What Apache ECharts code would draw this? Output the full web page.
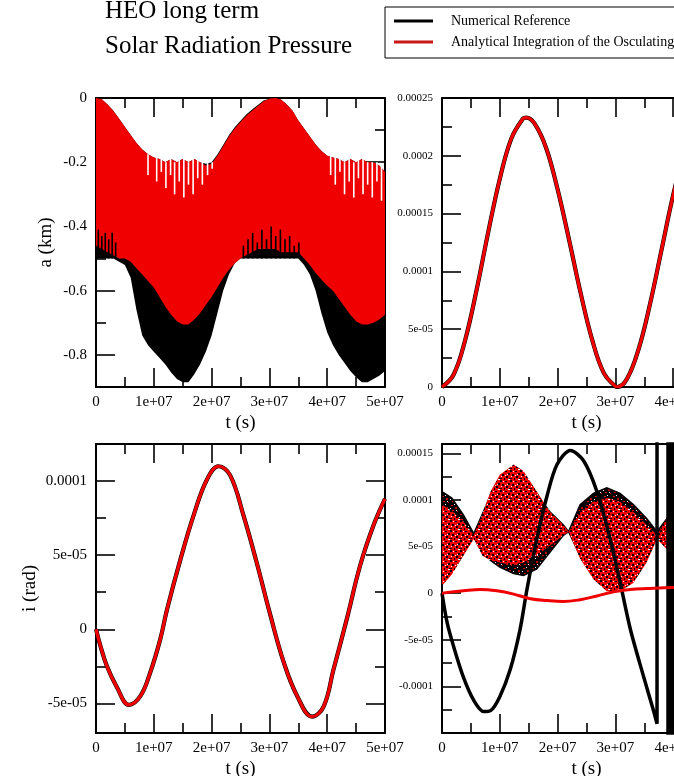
<!DOCTYPE html>
<html><head><meta charset="utf-8">
<script src="https://cdn.jsdelivr.net/npm/echarts@6/dist/echarts.min.js"></script>
<style>html,body{margin:0;padding:0;overflow:hidden;background:#fff}#c{width:900px;height:776px}</style>
</head><body><div id="c"></div>
<script>
// ---------------- text ----------------
const titleLines = ['HEO long term', 'Solar Radiation Pressure'];
const legendNames = ['Numerical Reference', 'Analytical Integration of the Osculating Elements'];
const xName = 't (s)';
const yNames = ['a (km)', '', 'i (rad)', ''];

// ---------------- ticks ----------------
const xMajor = [0, 1e7, 2e7, 3e7, 4e7, 5e7];
const xMajorLabels = ['0', '1e+07', '2e+07', '3e+07', '4e+07', '5e+07'];
const xMinor = [5e6, 1.5e7, 2.5e7, 3.5e7, 4.5e7];

const aMajor = [-0.8, -0.6, -0.4, -0.2, 0];
const aMajorLabels = ['-0.8', '-0.6', '-0.4', '-0.2', '0'];
const aMinor = [-0.9, -0.7, -0.5, -0.3, -0.1];

const eMajor = [0, 5e-5, 1e-4, 1.5e-4, 2e-4, 2.5e-4];
const eMajorLabels = ['0', '5e-05', '0.0001', '0.00015', '0.0002', '0.00025'];
const eMinor = [2.5e-5, 7.5e-5, 1.25e-4, 1.75e-4, 2.25e-4];

const iMajor = [-5e-5, 0, 5e-5, 1e-4];
const iMajorLabels = ['-5e-05', '0', '5e-05', '0.0001'];
const iMinor = [-2.5e-5, 2.5e-5, 7.5e-5, 1.25e-4];

const wMajor = [-1e-4, -5e-5, 0, 5e-5, 1e-4, 1.5e-4];
const wMajorLabels = ['-0.0001', '-5e-05', '0', '5e-05', '0.0001', '0.00015'];
const wMinor = [-1.25e-4, -7.5e-5, -2.5e-5, 2.5e-5, 7.5e-5, 1.25e-4];

// ---------------- data ----------------
// Panel a (km): envelopes of the fast-oscillating bands; time in units of 1e6 s
const aTime = [0,1,2,3,4,5,6,7,8,9,10,11,12,13,14,15,16,17,18,19,20,21,22,23,24,25,26,27,28,29,30,31,32,33,34,35,36,37,38,39,40,41,42,43,44,45,46,47,48,49,50];
const aRedUpper = [0,-0.004,-0.02,-0.04,-0.065,-0.09,-0.115,-0.14,-0.16,-0.175,-0.185,-0.19,-0.2,-0.19,-0.2,-0.19,-0.2,-0.19,-0.2,-0.21,-0.205,-0.18,-0.15,-0.12,-0.095,-0.075,-0.055,-0.04,-0.025,-0.01,-0.002,0,-0.005,-0.02,-0.04,-0.07,-0.095,-0.12,-0.145,-0.165,-0.18,-0.185,-0.19,-0.2,-0.19,-0.2,-0.19,-0.2,-0.2,-0.21,-0.23];
const aRedLower = [-0.46,-0.47,-0.48,-0.49,-0.5,-0.5,-0.51,-0.53,-0.55,-0.57,-0.59,-0.62,-0.65,-0.675,-0.695,-0.705,-0.705,-0.69,-0.67,-0.645,-0.62,-0.59,-0.56,-0.535,-0.515,-0.5,-0.49,-0.48,-0.47,-0.47,-0.47,-0.47,-0.48,-0.48,-0.48,-0.48,-0.5,-0.52,-0.545,-0.565,-0.585,-0.6,-0.625,-0.65,-0.675,-0.695,-0.705,-0.705,-0.7,-0.69,-0.675];
const aBlackUpper = [0,-0.004,-0.02,-0.04,-0.065,-0.09,-0.115,-0.14,-0.16,-0.175,-0.185,-0.19,-0.2,-0.19,-0.2,-0.19,-0.2,-0.19,-0.2,-0.205,-0.2,-0.176,-0.146,-0.116,-0.091,-0.071,-0.051,-0.036,-0.022,-0.008,-0.002,0,-0.005,-0.02,-0.04,-0.07,-0.095,-0.12,-0.145,-0.165,-0.18,-0.185,-0.19,-0.2,-0.19,-0.2,-0.19,-0.2,-0.2,-0.21,-0.23];
const aBlackLower = [-0.5,-0.5,-0.5,-0.5,-0.51,-0.52,-0.56,-0.66,-0.74,-0.77,-0.79,-0.81,-0.83,-0.855,-0.875,-0.885,-0.885,-0.86,-0.83,-0.79,-0.74,-0.67,-0.6,-0.55,-0.515,-0.5,-0.5,-0.5,-0.5,-0.5,-0.5,-0.5,-0.5,-0.5,-0.5,-0.5,-0.52,-0.55,-0.6,-0.67,-0.73,-0.77,-0.8,-0.825,-0.85,-0.87,-0.885,-0.885,-0.875,-0.865,-0.85];
// isolated excursions of the oscillation: [time (1e6 s), from (km), to (km)]
const aRedDips = [[9.0,-0.175,-0.24],[10.5,-0.185,-0.26],[11.3,-0.19,-0.23],[12.1,-0.2,-0.28],[12.9,-0.19,-0.24],[13.6,-0.2,-0.3],[14.4,-0.19,-0.26],[15.2,-0.19,-0.31],[16.0,-0.2,-0.27],[16.8,-0.19,-0.3],[17.6,-0.19,-0.25],[18.4,-0.2,-0.27],[19.3,-0.2,-0.24],[20.1,-0.2,-0.22],[40.6,-0.18,-0.24],[41.4,-0.185,-0.27],[42.2,-0.19,-0.23],[43.0,-0.2,-0.3],[43.8,-0.19,-0.26],[44.6,-0.2,-0.31],[45.4,-0.19,-0.25],[46.2,-0.19,-0.3],[47.0,-0.2,-0.27],[47.8,-0.2,-0.31],[48.6,-0.2,-0.26],[49.4,-0.21,-0.32]];
const aBlackRises = [[0.4,-0.5,-0.41],[1.0,-0.5,-0.43],[1.6,-0.5,-0.42],[2.2,-0.5,-0.44],[2.8,-0.5,-0.42],[3.4,-0.5,-0.45],[25.5,-0.5,-0.46],[26.3,-0.5,-0.44],[27.1,-0.5,-0.42],[27.9,-0.5,-0.45],[28.7,-0.5,-0.41],[29.5,-0.5,-0.44],[30.3,-0.5,-0.4],[31.1,-0.5,-0.43],[31.9,-0.5,-0.41],[32.7,-0.5,-0.44],[33.5,-0.5,-0.43],[34.3,-0.5,-0.46],[35.1,-0.5,-0.45]];

// Panel e: time (1e6 s), value (1e-5)
const eTime = [0,2,4,6,8,10,12,14,14.6,16,18,20,22,24,26,28,30,30.3,32,34,36,38,40,42,44,45.5,48,50];
const eNumerical = [0,1.06,4.05,8.43,13.4,18.0,21.5,23.2,23.3,22.8,20.7,17.1,12.7,8.1,4.05,1.2,0.05,0,0.7,3.25,7.2,11.9,16.6,20.4,22.7,23.3,22.6,20.8];
const eAnalytical = [0,1.06,4.05,8.43,13.4,18.0,21.5,23.2,23.3,22.8,20.7,17.1,12.7,8.1,4.05,1.2,0.05,0,0.7,3.25,7.2,11.9,16.6,20.4,22.7,23.3,22.6,20.8];

// Panel i: time (1e6 s), value (1e-5 rad)
const iTime = [0,0.75,1.9,3.6,5.7,7.7,9.4,11.1,12.3,14.6,16.9,19.2,21.2,23.2,25.5,27.8,30.2,32.5,34.8,37.4,39.4,41.1,43.4,45.7,48,50];
const iNumerical = [0,-1.1,-2.5,-3.9,-5.1,-4.5,-2.9,-0.7,1.35,4.7,7.7,10.1,11.0,10.4,7.7,4.5,0.9,-2.25,-4.5,-5.9,-5.2,-2.7,0.7,4.3,7.0,8.8];
const iAnalytical = [0,-1.1,-2.5,-3.9,-5.1,-4.5,-2.9,-0.7,1.35,4.7,7.7,10.1,11.0,10.4,7.7,4.5,0.9,-2.25,-4.5,-5.9,-5.2,-2.7,0.7,4.3,7.0,8.8];

// Panel 4: scattered lens envelopes, time (1e6 s), value (1e-5)
const wLensTime = [0,1.7,3.7,5.5,7.0,8.4,10,12.4,14.1,16.4,18.7,21,21.9,23.9,26.2,28.5,30.8,33.1,35.4,37.2,38.9,40.2,42];
const wBlackUpper = [10.9,10.2,8.4,6.4,8.5,10.5,12.3,13.4,12.7,10.5,8.7,7.3,6.6,9.5,10.7,11.3,10.7,9.5,8.0,6.6,8.0,9.5,10.5];
const wBlackLower = [1.5,2.6,4.4,6.2,4.5,3.5,2.8,2.1,1.9,2.6,4.4,6.2,6.6,4.0,1.9,0.6,0.8,1.9,4.0,6.4,5.1,3.7,2.5];
const wRedUpper = [9.5,8.8,7.7,6.2,8.5,10.9,12.7,13.8,13.1,10.9,8.7,7.3,6.6,8.7,9.8,10.2,9.8,8.7,7.3,6.2,8.0,9.5,10.5];
const wRedLower = [0.8,2.0,4.0,5.8,4.0,3.5,3.3,3.0,3.3,4.0,5.1,6.2,6.6,3.7,1.5,0.2,0.2,1.1,3.3,5.8,4.7,3.3,2.5];
// Numerical reference slow curve (with the wrap-around jumps at the end)
const wNumTime = [0,0.9,2,3.7,5.5,7.2,8.4,10,11.8,13.5,14.7,16.4,18.2,19.9,22.2,24.5,26.8,29.1,30.8,32.6,34.9,36.5,37.2,37.2,39.1,39.1,39.3,39.3,39.5,39.5,39.7,39.7,39.9,39.9,40.1,40.1];
const wNumValue = [0,-3.2,-5.7,-9.0,-11.5,-12.7,-12.6,-11.1,-8.2,-3.9,0.4,5.8,10.5,13.8,15.3,14.2,10.9,5.8,1.2,-3.9,-9.0,-12.4,-14.0,40,40,-40,-40,40,40,-40,-40,40,40,-40,-40,40];
// Analytical slow curve near zero
const wAnaTime = [0,3.7,6.6,9.5,12.4,15.3,18.2,21,23.9,26.8,29.7,32.6,35.4,40,45,50];
const wAnaValue = [0,0.25,0.4,0.25,-0.1,-0.6,-0.8,-0.9,-0.7,-0.3,0.15,0.4,0.5,0.6,0.6,0.5];

// ---------------- helpers ----------------
const FONT = '"Liberation Serif", "Times New Roman", serif';
const T = 1e6;
function pairs(ts, vs, vScale) { return ts.map((t, k) => [t * T, vs[k] * vScale]); }
function fmt(ticks, labels) {
  return function (v) {
    for (let k = 0; k < ticks.length; k++) {
      if (Math.abs(v - ticks[k]) <= Math.abs(ticks[k]) * 1e-9 + 1e-15) return labels[k];
    }
    return '';
  };
}

const grids = [
  { left: 96, top: 98, width: 289, height: 289 },
  { left: 442, top: 98, width: 289, height: 289 },
  { left: 96, top: 444, width: 289, height: 289 },
  { left: 442, top: 444, width: 289, height: 289 }
];
const ySpecs = [
  { min: -0.9, max: 0, major: aMajor, labels: aMajorLabels, minor: aMinor, fs: 15, name: yNames[0], gap: 40 },
  { min: 0, max: 2.5e-4, major: eMajor, labels: eMajorLabels, minor: eMinor, fs: 11, name: yNames[1], gap: 40 },
  { min: -7e-5, max: 1.25e-4, major: iMajor, labels: iMajorLabels, minor: iMinor, fs: 15, name: yNames[2], gap: 56 },
  { min: -1.5e-4, max: 1.6e-4, major: wMajor, labels: wMajorLabels, minor: wMinor, fs: 11, name: yNames[3], gap: 40 }
];

const xAxes = [], yAxes = [];
const lineBlack = { color: '#000', width: 2 };
const tickStyle = { color: '#000', width: 1.6 };
grids.forEach((g, gi) => {
  const base = { type: 'value', gridIndex: gi, min: 0, max: 5e7, splitLine: { show: false }, minorTick: { show: false } };
  xAxes.push(Object.assign({}, base, {
    position: 'bottom',
    axisLine: { onZero: false, lineStyle: lineBlack },
    axisTick: { inside: true, length: 19, customValues: xMajor, lineStyle: tickStyle },
    axisLabel: { customValues: xMajor, formatter: fmt(xMajor, xMajorLabels), margin: 8, fontSize: 15, fontFamily: FONT, color: '#000', showMinLabel: true, showMaxLabel: true },
    name: xName, nameLocation: 'middle', nameGap: 27,
    nameTextStyle: { fontFamily: FONT, fontSize: 19, color: '#000' }
  }));
  xAxes.push(Object.assign({}, base, {
    position: 'bottom', axisLine: { show: false, onZero: false },
    axisTick: { inside: true, length: 10, customValues: xMinor, lineStyle: tickStyle },
    axisLabel: { show: false }
  }));
  xAxes.push(Object.assign({}, base, {
    position: 'top', axisLine: { onZero: false, lineStyle: lineBlack },
    axisTick: { inside: true, length: 19, customValues: xMajor, lineStyle: tickStyle },
    axisLabel: { show: false }
  }));
  xAxes.push(Object.assign({}, base, {
    position: 'top', axisLine: { show: false, onZero: false },
    axisTick: { inside: true, length: 10, customValues: xMinor, lineStyle: tickStyle },
    axisLabel: { show: false }
  }));
  const s = ySpecs[gi];
  const yb = { type: 'value', gridIndex: gi, min: s.min, max: s.max, splitLine: { show: false }, minorTick: { show: false } };
  yAxes.push(Object.assign({}, yb, {
    position: 'left',
    axisLine: { onZero: false, lineStyle: lineBlack },
    axisTick: { inside: true, length: 19, customValues: s.major, lineStyle: tickStyle },
    axisLabel: { customValues: s.major, formatter: fmt(s.major, s.labels), margin: 9, fontSize: s.fs, fontFamily: FONT, color: '#000', showMinLabel: true, showMaxLabel: true },
    name: s.name, nameLocation: 'middle', nameGap: s.gap,
    nameTextStyle: { fontFamily: FONT, fontSize: 19, color: '#000' }
  }));
  yAxes.push(Object.assign({}, yb, {
    position: 'left', axisLine: { show: false, onZero: false },
    axisTick: { inside: true, length: 10, customValues: s.minor, lineStyle: tickStyle },
    axisLabel: { show: false }
  }));
  yAxes.push(Object.assign({}, yb, {
    position: 'right', axisLine: { onZero: false, lineStyle: lineBlack },
    axisTick: { inside: true, length: 19, customValues: s.major, lineStyle: tickStyle },
    axisLabel: { show: false }
  }));
  yAxes.push(Object.assign({}, yb, {
    position: 'right', axisLine: { show: false, onZero: false },
    axisTick: { inside: true, length: 10, customValues: s.minor, lineStyle: tickStyle },
    axisLabel: { show: false }
  }));
});

// speckle textures for the scattered-point clouds (style only)
function makeTile(w, h, bg, spots) {
  const c = document.createElement('canvas');
  c.width = w; c.height = h;
  const ctx = c.getContext('2d');
  ctx.fillStyle = bg; ctx.fillRect(0, 0, w, h);
  spots.forEach(s => { ctx.fillStyle = s[4]; ctx.fillRect(s[0], s[1], s[2], s[3]); });
  return c;
}
const redSpeckle = makeTile(10, 10, '#f00000', [
  [0,0,2,2,'#000'], [5,1,2,1,'#000'], [8,3,2,2,'#000'], [2,4,2,2,'#000'], [6,6,2,2,'#000'], [0,8,2,1,'#000'], [4,8,1,2,'#000'], [9,8,1,1,'#000'],
  [3,1,1,1,'#fff'], [7,4,1,1,'#fff'], [1,6,1,1,'#fff'], [8,9,2,1,'#fff'], [5,5,1,1,'#fff']
]);
const blackSpeckle = makeTile(9, 9, '#000', [
  [1,1,2,1,'#e00000'], [5,3,2,2,'#c00000'], [2,6,2,1,'#e00000'], [7,7,1,1,'#e00000'],
  [4,0,1,1,'#fff'], [0,4,1,1,'#fff'], [6,6,1,1,'#fff']
]);

// filled band between a lower and an upper envelope, drawn through the axes' scales
function band(gi, name, ts, up, lo, vScale, fill, z, stroke) {
  const data = ts.map((t, k) => [t * T, lo[k] * vScale, up[k] * vScale]);
  return {
    type: 'custom', name: name, xAxisIndex: gi * 4, yAxisIndex: gi * 4, z: z, silent: true,
    encode: { x: 0, y: [1, 2] }, data: data, clip: true,
    renderItem: function (params, api) {
      if (params.dataIndex !== 0) return null;
      const pts = [];
      const n = data.length;
      for (let k = 0; k < n; k++) pts.push(api.coord([data[k][0], data[k][2]]));
      for (let k = n - 1; k >= 0; k--) pts.push(api.coord([data[k][0], data[k][1]]));
      const cs = params.coordSys;
      return {
        type: 'polygon', shape: { points: pts },
        style: { fill: fill, stroke: stroke || null, lineWidth: stroke ? 1.5 : 0 },
        clipPath: { type: 'rect', shape: { x: cs.x, y: cs.y, width: cs.width, height: cs.height } }
      };
    }
  };
}
// vertical excursions [t, from, to]
function strokes(gi, name, list, color, width, z) {
  const data = list.map(d => [d[0] * T, d[1], d[2]]);
  return {
    type: 'custom', name: name, xAxisIndex: gi * 4, yAxisIndex: gi * 4, z: z, silent: true,
    encode: { x: 0, y: [1, 2] }, data: data, clip: true,
    renderItem: function (params, api) {
      const p0 = api.coord([api.value(0), api.value(1)]);
      const p1 = api.coord([api.value(0), api.value(2)]);
      return { type: 'line', shape: { x1: p0[0], y1: p0[1], x2: p1[0], y2: p1[1] }, style: { stroke: color, lineWidth: width } };
    }
  };
}
function curve(gi, name, ts, vs, vScale, color, width, smooth, z) {
  return {
    type: 'line', name: name, xAxisIndex: gi * 4, yAxisIndex: gi * 4, z: z,
    data: pairs(ts, vs, vScale), showSymbol: false, symbol: 'none', smooth: smooth,
    lineStyle: { color: color, width: width }, silent: true, clip: true
  };
}

const RED = '#f00000';
const series = [
  band(0, legendNames[0], aTime, aBlackUpper, aBlackLower, 1, '#000', 2),
  band(0, legendNames[1], aTime, aRedUpper, aRedLower, 1, RED, 3),
  strokes(0, legendNames[0], aBlackRises, '#000', 1.6, 4),
  strokes(0, legendNames[1], aRedDips, '#ffffff', 1.6, 4),
  curve(1, legendNames[0], eTime, eNumerical, 1e-5, '#000', 4.2, 0.4, 2),
  curve(1, legendNames[1], eTime, eAnalytical, 1e-5, RED, 3.2, 0.4, 3),
  curve(2, legendNames[0], iTime, iNumerical, 1e-5, '#000', 4.2, 0.4, 2),
  curve(2, legendNames[1], iTime, iAnalytical, 1e-5, RED, 3.2, 0.4, 3),
  band(3, legendNames[0], wLensTime, wBlackUpper, wBlackLower, 1e-5, { image: blackSpeckle, repeat: 'repeat' }, 2, '#000'),
  band(3, legendNames[1], wLensTime, wRedUpper, wRedLower, 1e-5, { image: redSpeckle, repeat: 'repeat' }, 3),
  curve(3, legendNames[0], wNumTime, wNumValue, 1e-5, '#000', 3.5, 0.3, 4),
  curve(3, legendNames[1], wAnaTime, wAnaValue, 1e-5, RED, 3, 0.4, 5)
];

const option = {
  animation: false,
  textStyle: { fontFamily: FONT },
  grid: grids.map(g => Object.assign({ outerBoundsMode: 'none', containLabel: false }, g)),
  xAxis: xAxes,
  yAxis: yAxes,
  legend: {
    left: 385, top: 7, orient: 'vertical', selectedMode: false,
    itemWidth: 39, itemHeight: 3, itemGap: 7, padding: [7, 9, 9, 9],
    borderColor: '#000', borderWidth: 1,
    textStyle: { fontFamily: FONT, fontSize: 14, color: '#000', padding: [0, 0, 0, 13] },
    data: [
      { name: legendNames[0], icon: 'rect', itemStyle: { color: '#000' } },
      { name: legendNames[1], icon: 'rect', itemStyle: { color: '#c81818' } }
    ]
  },
  graphic: [
    { type: 'text', x: 105, y: 11, silent: true, style: { text: titleLines[0], font: '25px ' + FONT, fill: '#000', align: 'left', verticalAlign: 'middle' } },
    { type: 'text', x: 105, y: 46.5, silent: true, style: { text: titleLines[1], font: '25px ' + FONT, fill: '#000', align: 'left', verticalAlign: 'middle' } }
  ],
  series: series
};

const chart = echarts.init(document.getElementById('c'), null, { renderer: 'canvas' });
chart.setOption(option);
</script>
</body></html>
